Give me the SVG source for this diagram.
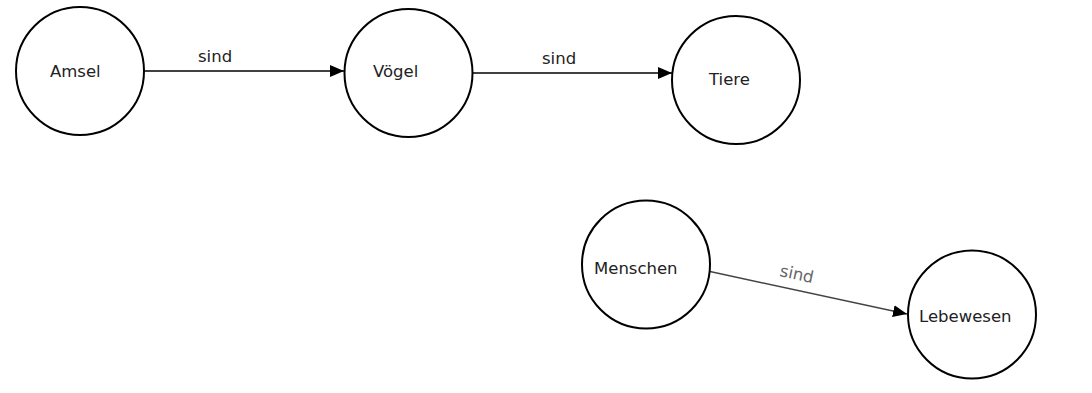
<svg xmlns="http://www.w3.org/2000/svg" width="1092" height="393" viewBox="0 0 1092 393">
<style>
.node{fill:#fff;stroke:#000;stroke-width:2}
.lbl{font-family:"DejaVu Sans",sans-serif;font-size:16.5px;fill:#222}
.edge{stroke:#000;stroke-width:1.5;fill:none}
.elbl{font-family:"DejaVu Sans",sans-serif;font-size:16.5px;fill:#222}
</style>
<defs>
<marker id="arr" viewBox="0 0 14 12" refX="14" refY="6" markerWidth="14" markerHeight="12" markerUnits="userSpaceOnUse" orient="auto">
<path d="M0,0 L14,6 L0,12 Z" fill="#000"/>
</marker>
</defs>
<rect width="1092" height="393" fill="#fff"/>
<g id="connectors">
<line class="edge" x1="144" y1="71" x2="344" y2="71" marker-end="url(#arr)"/>
<text class="elbl" x="198" y="62">sind</text>
<line class="edge" x1="473" y1="73" x2="672" y2="73" marker-end="url(#arr)"/>
<text class="elbl" x="542" y="64">sind</text>
<line class="edge" x1="710" y1="271.5" x2="907" y2="314" marker-end="url(#arr)" style="stroke:#444"/>
<text class="elbl" x="779" y="276" transform="rotate(12 779 276)" style="fill:#666">sind</text>
</g>
<g id="node-amsel">
<circle class="node" cx="80" cy="71" r="64"/>
<text class="lbl" x="50" y="77">Amsel</text>
</g>
<g id="node-voegel">
<circle class="node" cx="408.5" cy="73" r="64"/>
<text class="lbl" x="373" y="77">Vögel</text>
</g>
<g id="node-tiere">
<circle class="node" cx="736" cy="80" r="64"/>
<text class="lbl" x="709" y="85">Tiere</text>
</g>
<g id="node-menschen">
<circle class="node" cx="646" cy="264.5" r="64"/>
<text class="lbl" x="594" y="274">Menschen</text>
</g>
<g id="node-lebewesen">
<circle class="node" cx="972" cy="314.5" r="64"/>
<text class="lbl" x="919" y="322">Lebewesen</text>
</g>
</svg>
